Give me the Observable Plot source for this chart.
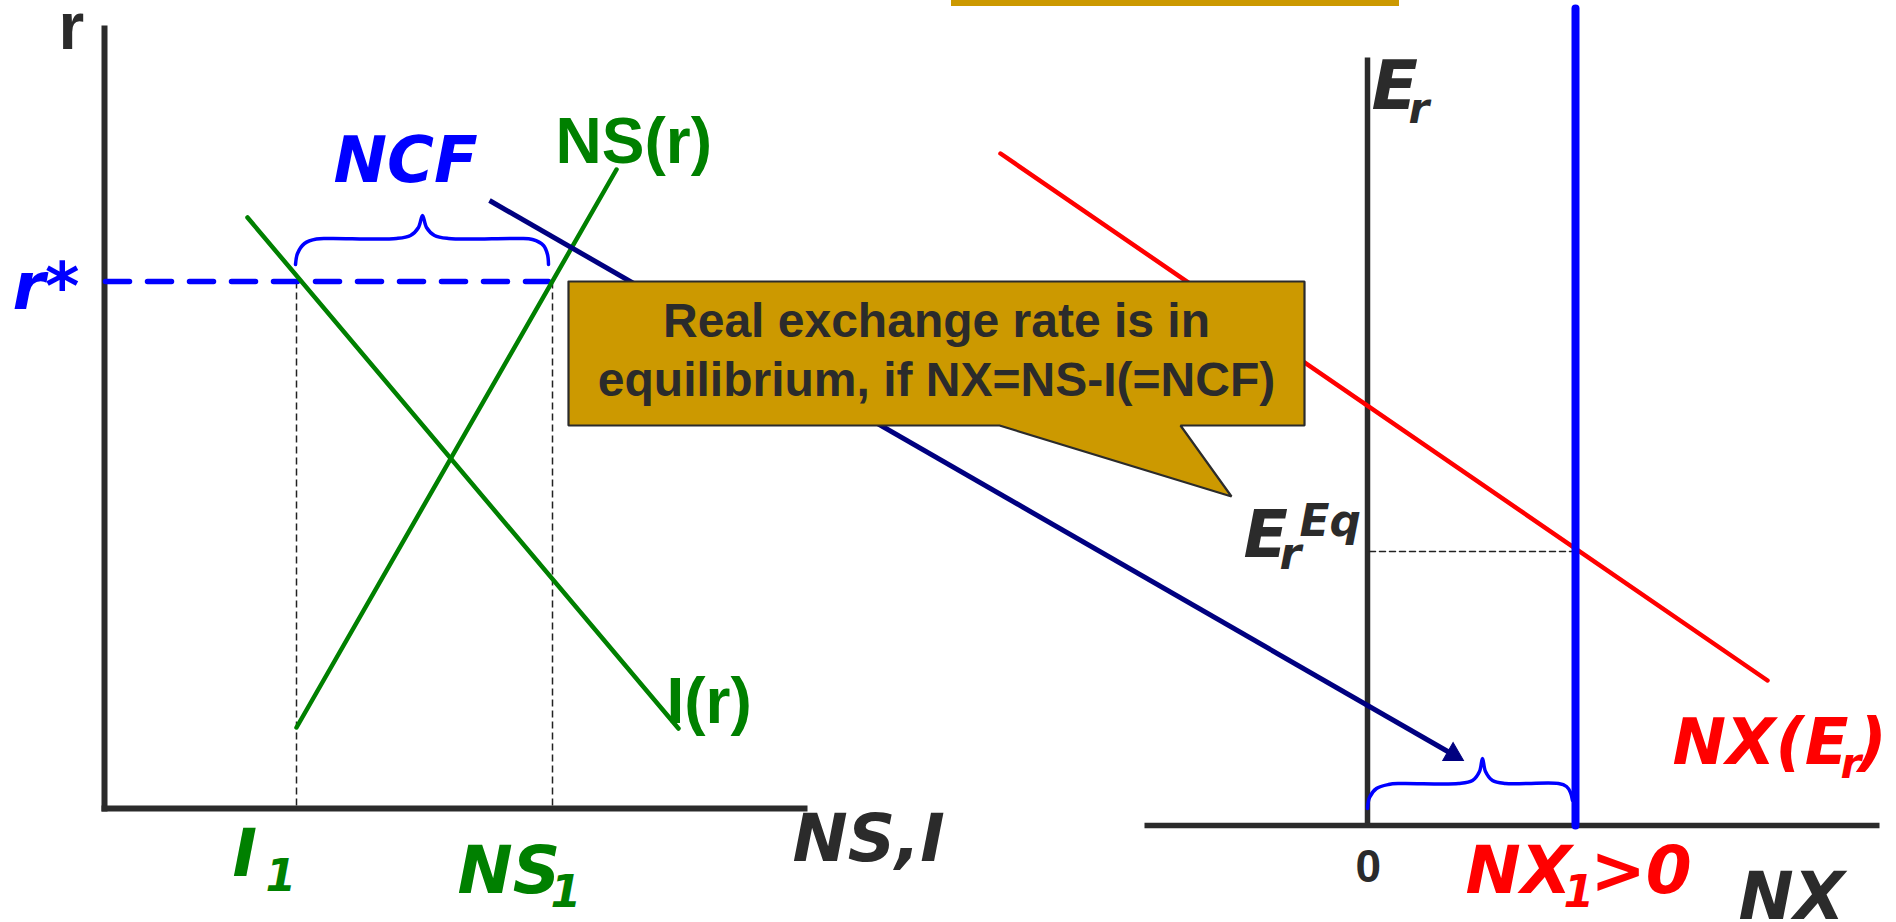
<!DOCTYPE html>
<html><head><meta charset="utf-8">
<script src="https://cdn.jsdelivr.net/npm/d3@7"></script>
<script src="https://cdn.jsdelivr.net/npm/@observablehq/plot@0.6"></script>
<style>html,body{margin:0;padding:0;background:#fff;overflow:hidden}</style>
</head><body><div id="chart"></div>
<script>
// Diagram units: x to the right, y downward (schematic economics diagram)
// ---- Left panel: loanable funds (r vs NS, I) ----
const leftAxes = [
  {x1: 104, y1: 25, x2: 104, y2: 811},   // r axis
  {x1: 101, y1: 808, x2: 807, y2: 808}   // NS,I axis
];
const investCurve = [{x: 247, y: 217}, {x: 678, y: 728}];   // I(r)
const savingCurve = [{x: 296, y: 727}, {x: 616, y: 169}];   // NS(r)
const rStarLevel = [{x: 105, y: 281}, {x: 548, y: 281}];    // r*
const guideVerticals = [
  {x1: 296, y1: 281, x2: 296, y2: 806},  // I1
  {x1: 552, y1: 281, x2: 552, y2: 806}   // NS1
];
const ncfBrace = [
  {x: 295, y: 264}, {x: 297, y: 253}, {x: 304, y: 243}, {x: 316, y: 238.5}, {x: 330, y: 238},
  {x: 396, y: 238}, {x: 410, y: 235}, {x: 418, y: 227}, {x: 422, y: 215},
  {x: 426, y: 227}, {x: 434, y: 235}, {x: 448, y: 238}, {x: 518, y: 238},
  {x: 532, y: 239}, {x: 543, y: 245}, {x: 547, y: 254}, {x: 548, y: 264}
];

// ---- Right panel: NX vs real exchange rate ----
const rightAxes = [
  {x1: 1367, y1: 57, x2: 1367, y2: 825},   // Er axis
  {x1: 1144, y1: 825, x2: 1879, y2: 825}   // NX axis
];
const nxCurve = [{x: 1000, y: 153}, {x: 1767, y: 680}];     // NX(Er)
const nxSupply = [{x: 1575, y: 8}, {x: 1575, y: 825}];      // vertical NS-I
const erEqGuide = [{x: 1369, y: 551}, {x: 1572, y: 551}];
const nxBrace = [
  {x: 1367, y: 808}, {x: 1369, y: 797}, {x: 1376, y: 788}, {x: 1388, y: 784}, {x: 1400, y: 783},
  {x: 1458, y: 783}, {x: 1472, y: 780}, {x: 1479, y: 771}, {x: 1482, y: 758},
  {x: 1485, y: 771}, {x: 1492, y: 780}, {x: 1505, y: 783}, {x: 1558, y: 783},
  {x: 1566, y: 786}, {x: 1570, y: 792}, {x: 1572, y: 800}
];

// ---- Connecting arrow, callout, top bar ----
const linkShaft = [{x1: 489, y1: 200, x2: 1449, y2: 752}];
const linkHead = [{x: 1452.6, y: 754, angle: 119.9}];
const callout = [
  {x: 568, y: 281}, {x: 1304, y: 281}, {x: 1304, y: 425}, {x: 1180, y: 425},
  {x: 1231, y: 496}, {x: 999, y: 425}, {x: 568, y: 425}, {x: 568, y: 281}
];
const calloutLines = ["Real exchange rate is in", "equilibrium, if NX=NS-I(=NCF)"];
const calloutBaselines = [336, 395];
const topBar = [{x1: 951, x2: 1399, y1: 0, y2: 6}];

// ---- Labels ----
const DARK = "#2b2b2b", BLUE = "#0000ff", GREEN = "#008000", RED = "#ff0000", NAVY = "#000080", GOLD = "#cc9900";
const SANS = "'Liberation Sans', Arial, Helvetica, sans-serif";
const WIDE = "'DejaVu Sans', Verdana, sans-serif";
// f: "s" = Arial-like upright, "w" = Verdana-like italic
const labels = [
  {t: "r",    x: 58,   y: 48,  c: DARK,  s: 66, f: "s"},
  {t: "NS(r)",x: 555,  y: 162, c: GREEN, s: 64, f: "s"},
  {t: "I(r)", x: 666,  y: 722, c: GREEN, s: 64, f: "s"},
  {t: "0",    x: 1355, y: 881, c: DARK,  s: 46, f: "s"},
  {t: "r*",   x: 12,   y: 308, c: BLUE,  s: 66, f: "w"},
  {t: "NCF",  x: 333,  y: 181, c: BLUE,  s: 64, f: "w"},
  {t: "I",    x: 232,  y: 875, c: GREEN, s: 66, f: "w"},
  {t: "1",    x: 265,  y: 890, c: GREEN, s: 44, f: "w"},
  {t: "NS",   x: 457,  y: 892, c: GREEN, s: 66, f: "w"},
  {t: "1",    x: 550,  y: 906, c: GREEN, s: 44, f: "w"},
  {t: "NS,I", x: 792,  y: 860, c: DARK,  s: 66, f: "w"},
  {t: "E",    x: 1371, y: 108, c: DARK,  s: 68, f: "w"},
  {t: "r",    x: 1408, y: 122, c: DARK,  s: 42, f: "w"},
  {t: "E",    x: 1243, y: 556, c: DARK,  s: 65, f: "w"},
  {t: "r",    x: 1279, y: 568, c: DARK,  s: 44, f: "w"},
  {t: "Eq",   x: 1299, y: 535, c: DARK,  s: 44, f: "w"},
  {t: "NX(E", x: 1672, y: 763, c: RED,   s: 64, f: "w"},
  {t: "r",    x: 1840, y: 777, c: RED,   s: 42, f: "w"},
  {t: ")",    x: 1857, y: 763, c: RED,   s: 64, f: "w"},
  {t: "NX",   x: 1465, y: 892, c: RED,   s: 66, f: "w"},
  {t: "1",    x: 1563, y: 906, c: RED,   s: 44, f: "w"},
  {t: ">0",   x: 1590, y: 892, c: RED,   s: 66, f: "w"},
  {t: "NX",   x: 1738, y: 918, c: DARK,  s: 66, f: "w"}
];

const labelMarks = labels.map(d => Plot.text([d], {
  x: "x", y: "y", text: "t", fill: d.c, fontSize: d.s,
  fontWeight: "bold", fontStyle: d.f === "w" ? "italic" : "normal",
  fontFamily: d.f === "w" ? WIDE : SANS, textAnchor: "start", lineAnchor: "bottom"
}));

const chart = Plot.plot({
  width: 1896, height: 922,
  margin: 0,
  x: {domain: [0, 1896], range: [0, 1896], axis: null},
  y: {domain: [0, 922], range: [0, 922], axis: null},
  style: {background: "#fff", overflow: "visible"},
  marks: [
    Plot.rect(topBar, {x1: "x1", x2: "x2", y1: "y1", y2: "y2", fill: GOLD}),
    // left panel
    Plot.link(guideVerticals, {x1: "x1", y1: "y1", x2: "x2", y2: "y2", stroke: "#222", strokeWidth: 1.5, strokeDasharray: "7,4"}),
    Plot.link(leftAxes, {x1: "x1", y1: "y1", x2: "x2", y2: "y2", stroke: DARK, strokeWidth: 6}),
    Plot.line(rStarLevel, {x: "x", y: "y", stroke: BLUE, strokeWidth: 5.5, strokeDasharray: "24,18"}),
    Plot.line(investCurve, {x: "x", y: "y", stroke: GREEN, strokeWidth: 4.5}),
    Plot.line(savingCurve, {x: "x", y: "y", stroke: GREEN, strokeWidth: 4.5}),
    Plot.line(ncfBrace, {x: "x", y: "y", stroke: BLUE, strokeWidth: 3.5, curve: "catmull-rom"}),
    // right panel
    Plot.link(rightAxes, {x1: "x1", y1: "y1", x2: "x2", y2: "y2", stroke: DARK, strokeWidth: 5.5}),
    Plot.line(erEqGuide, {x: "x", y: "y", stroke: "#222", strokeWidth: 1.5, strokeDasharray: "6,4"}),
    Plot.line(nxCurve, {x: "x", y: "y", stroke: RED, strokeWidth: 4.5}),
    Plot.line(nxSupply, {x: "x", y: "y", stroke: BLUE, strokeWidth: 8}),
    Plot.line(nxBrace, {x: "x", y: "y", stroke: BLUE, strokeWidth: 3.5, curve: "catmull-rom"}),
    // link arrow and callout
    Plot.link(linkShaft, {x1: "x1", y1: "y1", x2: "x2", y2: "y2", stroke: NAVY, strokeWidth: 5}),
    Plot.dot(linkHead, {x: "x", y: "y", symbol: "triangle", r: 7.7, rotate: "angle", fill: NAVY, stroke: NAVY, strokeWidth: 1}),
    Plot.line(callout, {x: "x", y: "y", fill: GOLD, stroke: DARK, strokeWidth: 2.2, strokeLinejoin: "miter"}),
    Plot.text(calloutLines, {x: () => 936, y: (d, i) => calloutBaselines[i], text: d => d,
      fill: DARK, fontSize: 48, fontWeight: "bold", fontFamily: SANS, textAnchor: "middle", lineAnchor: "bottom"}),
    ...labelMarks
  ]
});
document.getElementById("chart").appendChild(chart);
</script>
</body></html>
